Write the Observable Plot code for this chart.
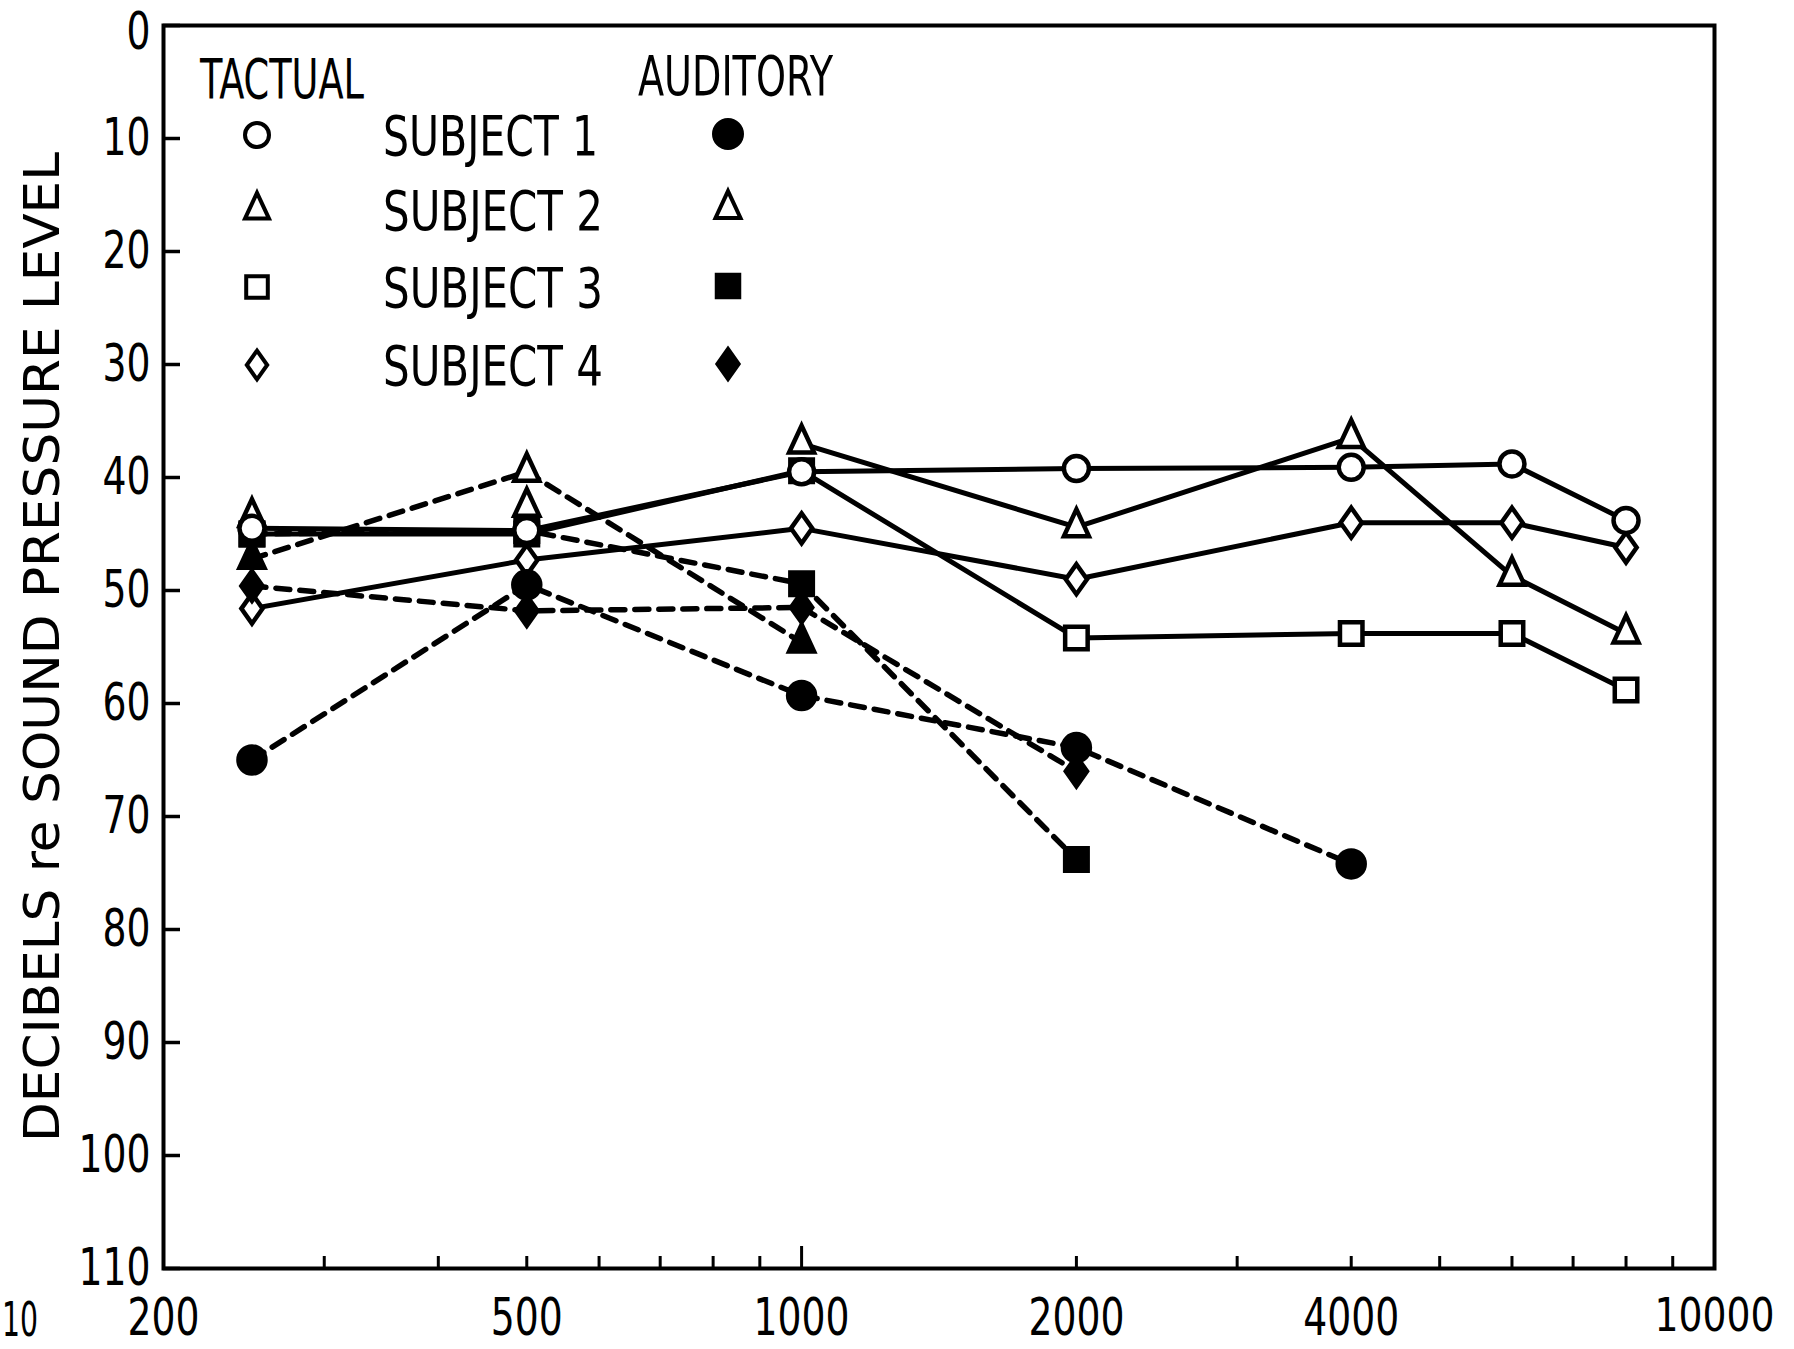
<!DOCTYPE html>
<html>
<head>
<meta charset="utf-8">
<script src="https://cdn.jsdelivr.net/npm/d3@7"></script>
<script src="https://cdn.jsdelivr.net/npm/@observablehq/plot@0.6"></script>
<style>
html, body { margin: 0; padding: 0; background: #fff; }
#wrap { position: relative; width: 1794px; height: 1349px; overflow: hidden; background: #fff; }
#wrap svg { position: absolute; left: 0; top: 0; }
</style>
</head>
<body>
<div id="wrap"></div>
<script>
// ---- data (dB re SPL) ----
const frequencies = [250, 500, 1000, 2000, 4000, 6000, 8000];
const tactualS1 = [44.5, 44.7, 39.5, 39.2, 39.1, 38.8, 43.8];
const tactualS2 = [43.5, 42.6, 37, 44.4, 36.5, 48.7, 53.8];
const tactualS3 = [45, 45, 39.4, 54.2, 53.8, 53.8, 58.8];
const tactualS4 = [51.6, 47.3, 44.5, 49, 44, 44, 46.2];
// lowest frequency from which each tactual subject's points are joined by a line
const tactualJoinedFrom = [250, 1000, 250, 250];

const auditoryFrequencies = [250, 500, 1000, 2000, 4000];
const auditoryS1 = [65, 49.5, 59.3, 63.9, 74.2];
const auditoryS2 = [47.2, 39.5, 54.6];
const auditoryS3 = [45, 44.7, 49.4, 73.8];
const auditoryS4 = [49.6, 51.8, 51.5, 66];

const subjectNames = ["SUBJECT 1", "SUBJECT 2", "SUBJECT 3", "SUBJECT 4"];
const modalityNames = ["TACTUAL", "AUDITORY"];
const yTicks = [0, 10, 20, 30, 40, 50, 60, 70, 80, 90, 100, 110];
const xLabelTicks = [200, 500, 1000, 2000, 4000, 10000];
const xMinorTicks = [300, 400, 500, 600, 700, 800, 900, 2000, 3000, 4000, 5000, 6000, 7000, 8000, 9000];
const xMajorTicks = [1000];
const yTitle = "DECIBELS re SOUND PRESSURE LEVEL";

// ---- tidy rows ----
function rows(modality, freqs, seriesList) {
  const out = [];
  seriesList.forEach((vals, i) => {
    vals.forEach((v, j) => out.push({modality, subject: i, freq: freqs[j], db: v}));
  });
  return out;
}
const tactual = rows("TACTUAL", frequencies, [tactualS1, tactualS2, tactualS3, tactualS4]);
const auditory = rows("AUDITORY", auditoryFrequencies, [auditoryS1, auditoryS2, auditoryS3, auditoryS4]);
const tactualJoined = tactual.filter(d => d.freq >= tactualJoinedFrom[d.subject]);

// ---- marker shapes ----
const shapes = [
  {draw(ctx, size) { const r = Math.sqrt(size / Math.PI); ctx.moveTo(r, 0); ctx.arc(0, 0, r, 0, 2 * Math.PI); ctx.closePath(); }},
  {draw(ctx, size) { const r = Math.sqrt(size / Math.PI); const h = 2.15 * r; ctx.moveTo(0, -2 * h / 3); ctx.lineTo(r, h / 3); ctx.lineTo(-r, h / 3); ctx.closePath(); }},
  {draw(ctx, size) { const r = Math.sqrt(size / Math.PI) * 0.9; ctx.rect(-r, -r, 2 * r, 2 * r); }},
  {draw(ctx, size) { const r = Math.sqrt(size / Math.PI); ctx.moveTo(0, -1.2 * r); ctx.lineTo(0.85 * r, 0); ctx.lineTo(0, 1.2 * r); ctx.lineTo(-0.85 * r, 0); ctx.closePath(); }}
];

const FONT = "'Liberation Sans Narrow','DejaVu Sans Condensed','DejaVu Sans','Liberation Sans',sans-serif";
const R = 12.5;

const tactualDot = (s) => Plot.dot(tactual.filter(d => d.subject === s), {
  x: "freq", y: "db", symbol: shapes[s], r: R, fill: "white", stroke: "black", strokeWidth: 4.5
});
const auditoryDot = (s) => Plot.dot(auditory.filter(d => d.subject === s), {
  x: "freq", y: "db", symbol: shapes[s], r: s === 0 ? 13.5 : R,
  fill: d => (s === 1 && d.freq === 500 ? "white" : "black"), stroke: "black", strokeWidth: 4.5
});

const chart = Plot.plot({
  width: 1794,
  height: 1349,
  marginLeft: 163,
  marginRight: 80,
  marginTop: 25,
  marginBottom: 81,
  style: {fontFamily: FONT, fontSize: "50px", color: "black", background: "white", overflow: "visible"},
  x: {type: "log", domain: [200, 10000]},
  y: {domain: [0, 110], reverse: true},
  marks: [
    Plot.frame({stroke: "black", strokeWidth: 4}),
    Plot.axisY({ticks: yTicks, tickSize: -17, tickPadding: 30, strokeWidth: 3.5, fontSize: 52,
      label: yTitle, labelAnchor: "center", labelOffset: 140, labelArrow: false}),
    Plot.axisX({ticks: xMinorTicks, tickSize: -12, strokeWidth: 3, tickFormat: () => "", label: null}),
    Plot.axisX({ticks: xMajorTicks, tickSize: -22, strokeWidth: 3, tickFormat: () => "", label: null}),
    Plot.axisX({ticks: xLabelTicks, tickSize: 0, tickPadding: 30, fontSize: 52, tickFormat: d => String(d), label: null}),
    Plot.line(tactualJoined, {x: "freq", y: "db", z: "subject", stroke: "black", strokeWidth: 5, curve: "linear"}),
    Plot.line(auditory, {x: "freq", y: "db", z: "subject", stroke: "black", strokeWidth: 5.5, strokeDasharray: "14,10", curve: "linear"}),
    tactualDot(2), tactualDot(3), tactualDot(1),
    auditoryDot(3), auditoryDot(1), auditoryDot(0), auditoryDot(2),
    tactualDot(0)
  ]
});

const wrap = document.getElementById("wrap");
wrap.appendChild(chart);

// condensed plotter-style numerals: fix each tick label's width
function condense(sel, perChar) {
  chart.querySelectorAll(sel).forEach(t => {
    const s = t.textContent;
    if (!s) return;
    t.setAttribute("textLength", String(perChar * s.length));
    t.setAttribute("lengthAdjust", "spacingAndGlyphs");
    if (s.length > 4) t.setAttribute("font-size", "46");
  });
}
condense('[aria-label="y-axis tick label"] text', 24);
condense('[aria-label="x-axis tick label"] text', 24);
// the top "0" sits a little below its tick in the original
chart.querySelectorAll('[aria-label="y-axis tick label"] text').forEach(t => {
  if (t.textContent === "0") t.setAttribute("transform", (t.getAttribute("transform") || "") + " translate(0,7)");
});

// y-axis title: stretch to the reference's length
chart.querySelectorAll('[aria-label="y-axis label"] text').forEach(t => {
  t.setAttribute("font-size", "50");
  t.setAttribute("textLength", "990");
  t.setAttribute("lengthAdjust", "spacingAndGlyphs");
});

// ---- legend overlay (inside the plot frame) ----
const lg = d3.select(wrap).append("svg")
  .attr("width", 1794).attr("height", 1349)
  .style("pointer-events", "none")
  .attr("font-family", FONT);

const heads = [
  {text: modalityNames[0], x: 200, y: 98, w: 164},
  {text: modalityNames[1], x: 638, y: 95, w: 195}
];
lg.selectAll("text.head").data(heads).join("text")
  .attr("x", d => d.x).attr("y", d => d.y)
  .attr("font-size", 56)
  .attr("textLength", d => d.w).attr("lengthAdjust", "spacingAndGlyphs")
  .text(d => d.text);

const rowsY = [135, 210, 287, 365];
lg.selectAll("text.subj").data(subjectNames).join("text")
  .attr("x", 383).attr("y", (d, i) => rowsY[i] + 20)
  .attr("font-size", 56)
  .attr("textLength", (d, i) => i === 0 ? 215 : 220).attr("lengthAdjust", "spacingAndGlyphs")
  .text(d => d);

lg.selectAll("path.t").data(subjectNames).join("path")
  .attr("transform", (d, i) => `translate(257,${rowsY[i]})`)
  .attr("d", (d, i) => d3.symbol().type(shapes[i]).size(Math.PI * 12 * 12)())
  .attr("fill", "white").attr("stroke", "black").attr("stroke-width", 4);

lg.selectAll("path.a").data(subjectNames).join("path")
  .attr("transform", (d, i) => `translate(728,${rowsY[i] - 1})`)
  .attr("d", (d, i) => d3.symbol().type(shapes[i]).size(Math.PI * (i === 0 ? 14 : 12.5) ** 2)())
  .attr("fill", (d, i) => i === 1 ? "white" : "black").attr("stroke", "black").attr("stroke-width", 4);

// remnant of a label at the far left edge of the scan
lg.append("text").attr("x", 2).attr("y", 1336).attr("font-size", 48)
  .attr("textLength", 36).attr("lengthAdjust", "spacingAndGlyphs").text("10");
</script>
</body>
</html>
